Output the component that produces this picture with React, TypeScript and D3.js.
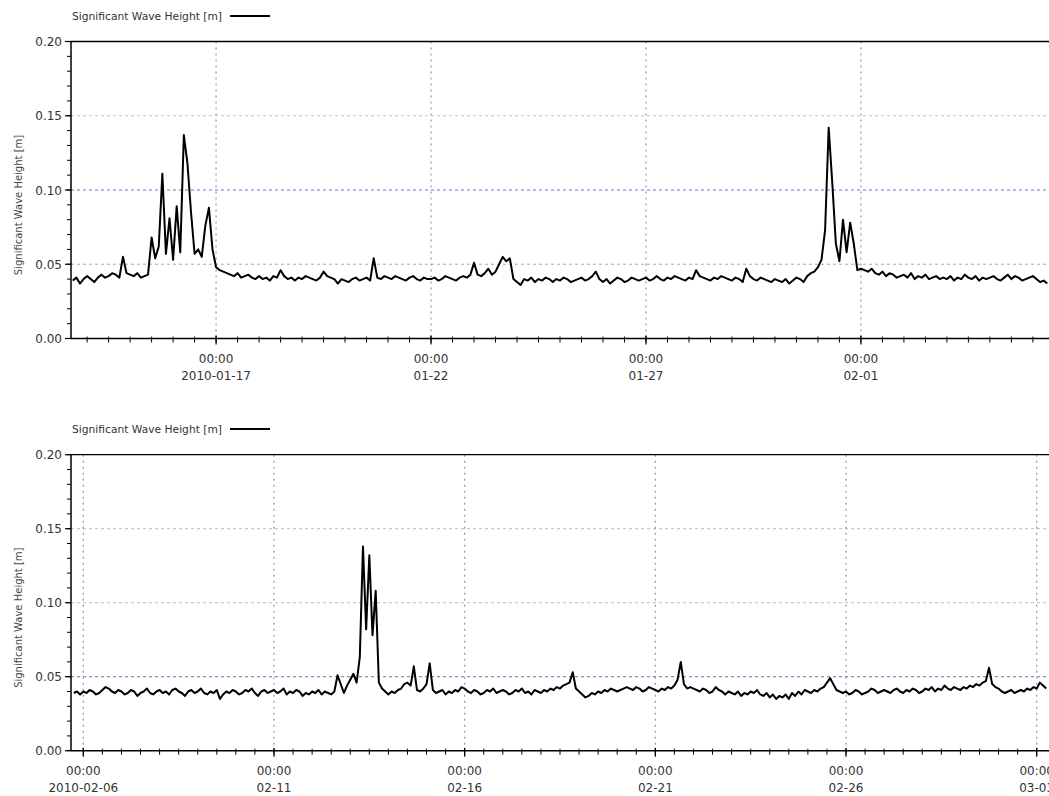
import React from "react";
import * as d3 from "d3";

// Significant wave height, 2-hourly samples, in millimetres.
const STEP_HOURS = 2;
const LEGEND_TEXT = "Significant Wave Height [m]";
const Y_TICKS = [0, 0.05, 0.1, 0.15, 0.2];
const Y_TICK_LABELS = ["0.00", "0.05", "0.10", "0.15", "0.20"];

// Panel 1: 13 Jan – 5 Feb 2010
const janDomain = ["2010-01-13T15:00:00Z", "2010-02-05T09:00:00Z"];
const janStart = "2010-01-13T16:00:00Z";
const janMajor = ["2010-01-17T00:00:00Z", "2010-01-22T00:00:00Z", "2010-01-27T00:00:00Z", "2010-02-01T00:00:00Z"];
const janMajorLabels = ["2010-01-17", "01-22", "01-27", "02-01"];
const janHsMm = [
  39, 41, 37, 40,
  42, 40, 38, 41, 43, 41, 42, 44, 43, 41, 55, 44,
  43, 42, 44, 41, 42, 43, 68, 54, 62, 111, 57, 81,
  53, 89, 58, 137, 118, 85, 57, 60, 55, 76, 88, 60,
  48, 46, 45, 44, 43, 42, 44, 41, 42, 43, 41, 40,
  42, 40, 41, 39, 42, 41, 46, 42, 40, 41, 39, 41,
  40, 42, 41, 40, 39, 41, 45, 42, 41, 40, 37, 40,
  39, 38, 40, 41, 39, 40, 41, 39, 54, 41, 40, 42,
  41, 40, 42, 41, 40, 39, 41, 42, 40, 39, 41, 40,
  40, 41, 39, 40, 42, 41, 40, 39, 41, 42, 41, 43,
  51, 43, 42, 44, 47, 43, 45, 50, 55, 52, 54, 40,
  38, 36, 40, 39, 41, 38, 40, 39, 41, 40, 38, 40,
  39, 41, 40, 38, 39, 40, 41, 39, 40, 42, 45, 40,
  38, 40, 37, 39, 41, 40, 38, 39, 41, 40, 39, 40,
  41, 39, 40, 42, 40, 39, 41, 40, 42, 41, 40, 39,
  41, 40, 46, 42, 41, 40, 39, 41, 40, 42, 41, 40,
  39, 41, 40, 38, 47, 42, 40, 39, 41, 40, 39, 38,
  40, 39, 38, 40, 37, 39, 41, 40, 38, 42, 44, 45,
  48, 53, 73, 142, 105, 64, 52, 80, 58, 78, 64, 46,
  47, 46, 45, 47, 44, 43, 45, 42, 44, 43, 41, 42,
  43, 41, 44, 40, 42, 41, 43, 40, 41, 42, 40, 41,
  40, 42, 39, 41, 40, 43, 41, 40, 42, 39, 41, 40,
  41, 42, 40, 39, 41, 43, 40, 42, 41, 39, 40, 41,
  42, 40, 38, 39, 37,
];

// Panel 2: 5 Feb – 3 Mar 2010
const febDomain = ["2010-02-05T16:15:00Z", "2010-03-03T07:45:00Z"];
const febStart = "2010-02-05T18:00:00Z";
const febMajor = ["2010-02-06T00:00:00Z", "2010-02-11T00:00:00Z", "2010-02-16T00:00:00Z", "2010-02-21T00:00:00Z", "2010-02-26T00:00:00Z", "2010-03-03T00:00:00Z"];
const febMajorLabels = ["2010-02-06", "02-11", "02-16", "02-21", "02-26", "03-03"];
const febHsMm = [
  39, 40, 38,
  40, 39, 41, 40, 38, 39, 41, 43, 42, 40, 39, 41,
  40, 38, 39, 41, 40, 37, 39, 40, 42, 39, 38, 40,
  41, 39, 40, 38, 41, 42, 40, 39, 37, 40, 41, 39,
  40, 42, 39, 38, 40, 39, 41, 35, 38, 40, 39, 41,
  40, 38, 39, 41, 40, 42, 39, 37, 40, 41, 39, 40,
  41, 39, 40, 42, 38, 40, 39, 41, 40, 37, 39, 38,
  40, 39, 41, 38, 40, 39, 38, 40, 51, 45, 39, 44,
  48, 52, 46, 63, 138, 82, 132, 78, 108, 46, 42, 40,
  38, 40, 39, 41, 42, 45, 46, 44, 57, 41, 40, 42,
  45, 59, 41, 39, 40, 41, 38, 40, 39, 41, 40, 43,
  42, 40, 39, 41, 40, 38, 39, 41, 40, 42, 39, 40,
  41, 40, 38, 39, 41, 40, 42, 39, 40, 38, 41, 40,
  39, 41, 40, 42, 41, 43, 42, 44, 45, 46, 53, 42,
  40, 38, 36, 37, 39, 38, 40, 39, 41, 40, 42, 41,
  40, 41, 42, 43, 42, 41, 43, 42, 40, 41, 43, 42,
  41, 40, 42, 41, 43, 42, 44, 48, 60, 45, 42, 43,
  42, 41, 40, 42, 41, 39, 40, 43, 41, 40, 38, 40,
  39, 38, 40, 37, 39, 38, 40, 39, 41, 38, 37, 39,
  36, 38, 35, 37, 36, 38, 35, 39, 37, 40, 38, 41,
  40, 39, 41, 40, 42, 43, 46, 49, 45, 41, 40, 39,
  40, 38, 39, 41, 40, 38, 39, 40, 42, 41, 39, 40,
  41, 40, 39, 41, 42, 40, 39, 41, 40, 42, 41, 39,
  40, 42, 41, 43, 40, 42, 41, 44, 42, 41, 43, 42,
  41, 43, 42, 44, 43, 45, 44, 46, 47, 56, 45, 43,
  42, 40, 39, 40, 41, 39, 40, 41, 40, 42, 41, 43,
  42, 46, 44, 42,
];

const FONT = "'DejaVu Sans', Verdana, sans-serif";
const LEFT = 71;
const RIGHT = 1049;

type PanelProps = {
  id: string;
  top: number;
  bottom: number;
  legendY: number;
  domain: string[];
  start: string;
  values: number[];
  major: string[];
  majorLabels: string[];
  hGridColors: Record<string, string>;
};

function Panel({ id, top, bottom, legendY, domain, start, values, major, majorLabels, hGridColors }: PanelProps) {
  const d0 = new Date(domain[0]);
  const d1 = new Date(domain[1]);
  const x = d3.scaleUtc().domain([d0, d1]).range([LEFT, RIGHT]);
  const y = d3.scaleLinear().domain([0, 0.2]).range([bottom, top]);
  const t0 = new Date(start).getTime();
  const pts: [number, number][] = values.map((v, i) => [t0 + i * STEP_HOURS * 3600e3, v / 1000]);
  const line = d3
    .line<[number, number]>()
    .x((d) => x(new Date(d[0])))
    .y((d) => y(d[1]));
  const minor = d3.utcHour.every(12)!.range(d0, d1);
  const yMinor = y.ticks(20);
  const majorDates = major.map((m) => new Date(m));
  const midY = (top + bottom) / 2 + 15;

  return (
    <g>
      <defs>
        <clipPath id={`clip-${id}`}>
          <rect x={LEFT} y={top - 2} width={RIGHT - LEFT} height={bottom - top + 4} />
        </clipPath>
      </defs>

      {/* legend */}
      <text x={72} y={legendY + 4} fontFamily={FONT} fontSize={10.7} fill="#333">
        {LEGEND_TEXT}
      </text>
      <line x1={230} x2={270} y1={legendY} y2={legendY} stroke="#000" strokeWidth={2} />

      {/* horizontal grid */}
      {Y_TICKS.filter((t) => t > 0 && t < 0.2).map((t) => (
        <line
          key={`hg${t}`}
          x1={LEFT}
          x2={RIGHT}
          y1={y(t)}
          y2={y(t)}
          stroke={hGridColors[t.toFixed(2)]}
          strokeWidth={1.2}
          strokeDasharray="3 3"
        />
      ))}

      {/* vertical grid */}
      {majorDates.map((d, i) => (
        <line
          key={`vg${i}`}
          x1={x(d)}
          x2={x(d)}
          y1={top}
          y2={bottom}
          stroke="#8d92c4"
          strokeWidth={1.2}
          strokeDasharray="2 4"
        />
      ))}

      {/* series */}
      <path d={line(pts) ?? ""} fill="none" stroke="#000" strokeWidth={2} strokeLinejoin="round" clipPath={`url(#clip-${id})`} />

      {/* frame */}
      <line x1={LEFT} x2={RIGHT} y1={top} y2={top} stroke="#000" strokeWidth={1.3} />
      <line x1={LEFT} x2={RIGHT} y1={bottom} y2={bottom} stroke="#000" strokeWidth={1.5} />
      <line x1={LEFT} x2={LEFT} y1={top} y2={bottom} stroke="#000" strokeWidth={1.5} />

      {/* y ticks */}
      {yMinor.map((t, i) => (
        <line key={`ym${i}`} x1={LEFT - 4} x2={LEFT} y1={y(t)} y2={y(t)} stroke="#000" strokeWidth={1} />
      ))}
      {Y_TICKS.map((t, i) => (
        <g key={`yt${i}`}>
          <line x1={LEFT - 6} x2={LEFT} y1={y(t)} y2={y(t)} stroke="#000" strokeWidth={1.2} />
          <text x={LEFT - 9} y={y(t) + 4.5} textAnchor="end" fontFamily={FONT} fontSize={12} fill="#333">
            {Y_TICK_LABELS[i]}
          </text>
        </g>
      ))}

      {/* x ticks */}
      {minor.map((d, i) => (
        <line key={`xm${i}`} x1={x(d)} x2={x(d)} y1={bottom - 2} y2={bottom + 4} stroke="#000" strokeWidth={1} />
      ))}
      {majorDates.map((d, i) => (
        <g key={`xt${i}`}>
          <line x1={x(d)} x2={x(d)} y1={bottom - 3} y2={bottom + 6} stroke="#000" strokeWidth={1.2} />
          <text x={x(d)} y={bottom + 24} textAnchor="middle" fontFamily={FONT} fontSize={12} fill="#333">
            00:00
          </text>
          <text x={x(d)} y={bottom + 41} textAnchor="middle" fontFamily={FONT} fontSize={12} fill="#333">
            {majorLabels[i]}
          </text>
        </g>
      ))}

      {/* y-axis title */}
      <text
        transform={`translate(22,${midY}) rotate(-90)`}
        textAnchor="middle"
        fontFamily={FONT}
        fontSize={10}
        fill="#444"
      >
        {LEGEND_TEXT}
      </text>
    </g>
  );
}

export default function App() {
  return (
    <svg
      width={1049}
      height={796}
      viewBox="0 0 1049 796"
      style={{ position: "absolute", left: 0, top: 0, background: "#fff" }}
    >
      <rect width={1049} height={796} fill="#fff" />
      <Panel
        id="jan"
        top={41.5}
        bottom={338.5}
        legendY={16}
        domain={janDomain}
        start={janStart}
        values={janHsMm}
        major={janMajor}
        majorLabels={janMajorLabels}
        hGridColors={{ "0.05": "#a9abc4", "0.10": "#6f74c4", "0.15": "#c4c4c4" }}
      />
      <Panel
        id="feb"
        top={454.7}
        bottom={750.7}
        legendY={429}
        domain={febDomain}
        start={febStart}
        values={febHsMm}
        major={febMajor}
        majorLabels={febMajorLabels}
        hGridColors={{ "0.05": "#7f8fc8", "0.10": "#c8c8c8", "0.15": "#c8c8c8" }}
      />
    </svg>
  );
}
